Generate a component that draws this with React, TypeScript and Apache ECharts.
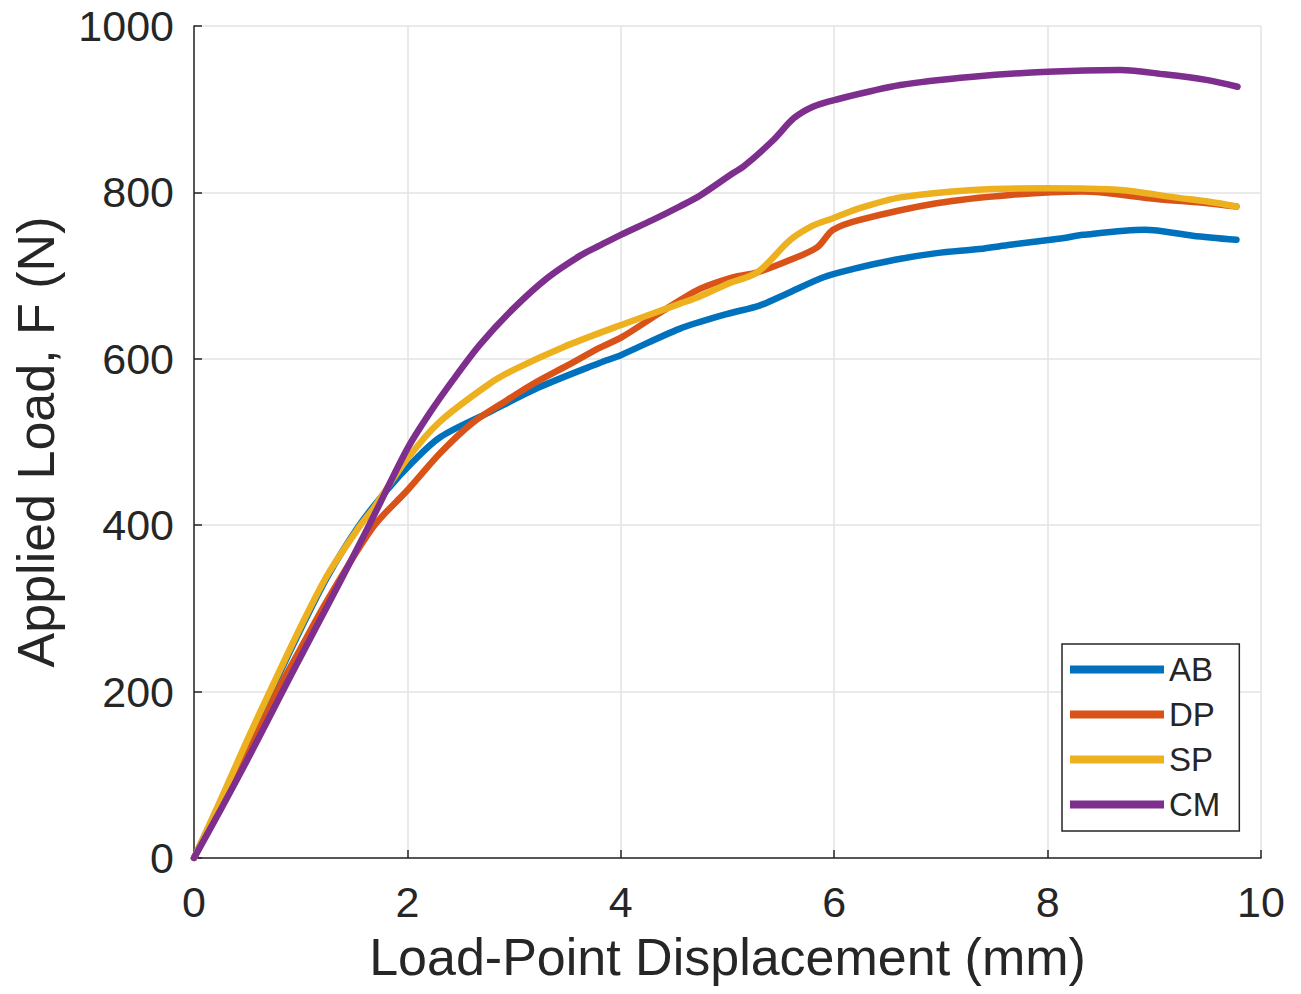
import React, { useEffect, useRef } from "react";
import * as echarts from "echarts";

const seriesNames = ["AB", "DP", "SP", "CM"];
const seriesColors = ["#0072BD", "#D95319", "#EDB120", "#7E2F8E"];

const xTicks = [0, 2, 4, 6, 8, 10];
const yTicks = [0, 200, 400, 600, 800, 1000];

const abData: [number, number][] = [
  [0, 0], [0.25, 68], [0.5, 140], [0.72, 200], [1.0, 275], [1.25, 338], [1.55, 400],
  [1.8, 441], [2.05, 476], [2.31, 506], [2.77, 536], [3.24, 566], [3.8, 595],
  [4.01, 605], [4.55, 636], [5.0, 654], [5.3, 664], [5.55, 678],
  [5.9, 698], [6.18, 708], [6.57, 719], [6.96, 727], [7.36, 732], [7.65, 737],
  [8.14, 745], [8.33, 749], [8.91, 755], [9.36, 748], [9.77, 743],
];

const dpData: [number, number][] = [
  [0, 0], [0.25, 62], [0.5, 125], [0.8, 205], [1.0, 252], [1.25, 310], [1.68, 398],
  [2.0, 442], [2.31, 487], [2.61, 523], [2.93, 550], [3.18, 570], [3.5, 592],
  [3.8, 613], [4.01, 626], [4.4, 658], [4.74, 684], [5.05, 698], [5.28, 704],
  [5.59, 719], [5.84, 734], [5.99, 755], [6.24, 767], [6.96, 787], [7.65, 797],
  [8.33, 801], [9.02, 792], [9.5, 787], [9.77, 783],
];

const spData: [number, number][] = [
  [0, 0], [0.25, 70], [0.5, 142], [0.71, 200], [1.0, 278], [1.25, 340], [1.56, 400],
  [1.68, 420], [2.0, 480], [2.3, 524], [2.77, 570], [3.0, 587], [3.46, 614],
  [4.01, 641], [4.55, 666], [4.74, 675], [5.0, 690], [5.28, 704], [5.59, 743],
  [5.8, 760], [5.99, 769], [6.24, 781], [6.62, 794], [7.3, 803], [7.99, 805],
  [8.68, 803], [9.19, 794], [9.5, 789], [9.77, 783],
];

const cmData: [number, number][] = [
  [0, 0], [0.25, 58], [0.5, 118], [0.83, 200], [1.0, 242], [1.25, 303], [1.49, 362],
  [1.68, 410], [2.0, 492], [2.21, 535], [2.43, 575], [2.68, 617], [2.99, 660],
  [3.31, 697], [3.62, 724], [3.8, 736], [4.0, 749], [4.3, 767], [4.55, 783],
  [4.74, 796], [5.05, 823], [5.15, 831], [5.43, 863], [5.62, 889], [5.8, 903],
  [6.0, 911], [6.62, 929], [7.3, 939], [8.0, 945], [8.68, 947], [9.09, 942],
  [9.5, 935], [9.78, 927],
];

const allData = [abData, dpData, spData, cmData];

const FONT = "Liberation Sans, Arial, Helvetica, sans-serif";
const TEXT = "#262626";

export default function App() {
  const ref = useRef<HTMLDivElement>(null);
  useEffect(() => {
    document.body.style.margin = "0";
    if (!ref.current) return;
    const chart = echarts.init(ref.current, undefined, { renderer: "svg" });
    chart.setOption({
      animation: false,
      backgroundColor: "#ffffff",
      grid: { left: 194, right: 40, top: 26, bottom: 136, containLabel: false },
      legend: {
        data: seriesNames,
        orient: "vertical",
        left: 1062,
        top: 644,
        itemWidth: 94,
        itemHeight: 8,
        itemGap: 12,
        icon: "rect",
        padding: [9, 19, 10, 8],
        borderColor: TEXT,
        borderWidth: 1.5,
        backgroundColor: "#ffffff",
        textStyle: { fontSize: 33, color: TEXT, fontFamily: FONT },
      },
      xAxis: {
        type: "value",
        min: 0,
        max: 10,
        interval: 2,
        name: "Load-Point Displacement (mm)",
        nameLocation: "middle",
        nameGap: 73,
        nameTextStyle: { fontSize: 52, color: TEXT, fontFamily: FONT },
        axisLine: { show: true, onZero: false, lineStyle: { color: TEXT, width: 1.5 } },
        axisTick: { show: true, inside: true, length: 8, lineStyle: { color: TEXT, width: 1.5 } },
        axisLabel: {
          fontSize: 43,
          color: TEXT,
          fontFamily: FONT,
          margin: 22,
          formatter: (v: number) => (xTicks.includes(v) ? String(v) : ""),
        },
        splitLine: { show: true, lineStyle: { color: "#e3e3e3", width: 1.5 } },
      },
      yAxis: {
        type: "value",
        min: 0,
        max: 1000,
        interval: 200,
        name: "Applied Load, F (N)",
        nameLocation: "middle",
        nameGap: 132,
        nameRotate: 90,
        nameTextStyle: { fontSize: 52, color: TEXT, fontFamily: FONT },
        axisLine: { show: true, onZero: false, lineStyle: { color: TEXT, width: 1.5 } },
        axisTick: { show: true, inside: true, length: 8, lineStyle: { color: TEXT, width: 1.5 } },
        axisLabel: {
          fontSize: 43,
          color: TEXT,
          fontFamily: FONT,
          margin: 20,
          formatter: (v: number) => (yTicks.includes(v) ? String(v) : ""),
        },
        splitLine: { show: true, lineStyle: { color: "#e3e3e3", width: 1.5 } },
      },
      series: seriesNames.map((name, i) => ({
        name,
        type: "line",
        data: allData[i],
        showSymbol: false,
        symbol: "none",
        smooth: 0.3,
        color: seriesColors[i],
        lineStyle: { color: seriesColors[i], width: 6.5, cap: "round", join: "round" },
        z: 2 + i,
      })),
    });
    return () => chart.dispose();
  }, []);
  return <div ref={ref} style={{ width: 1301, height: 994 }} />;
}
